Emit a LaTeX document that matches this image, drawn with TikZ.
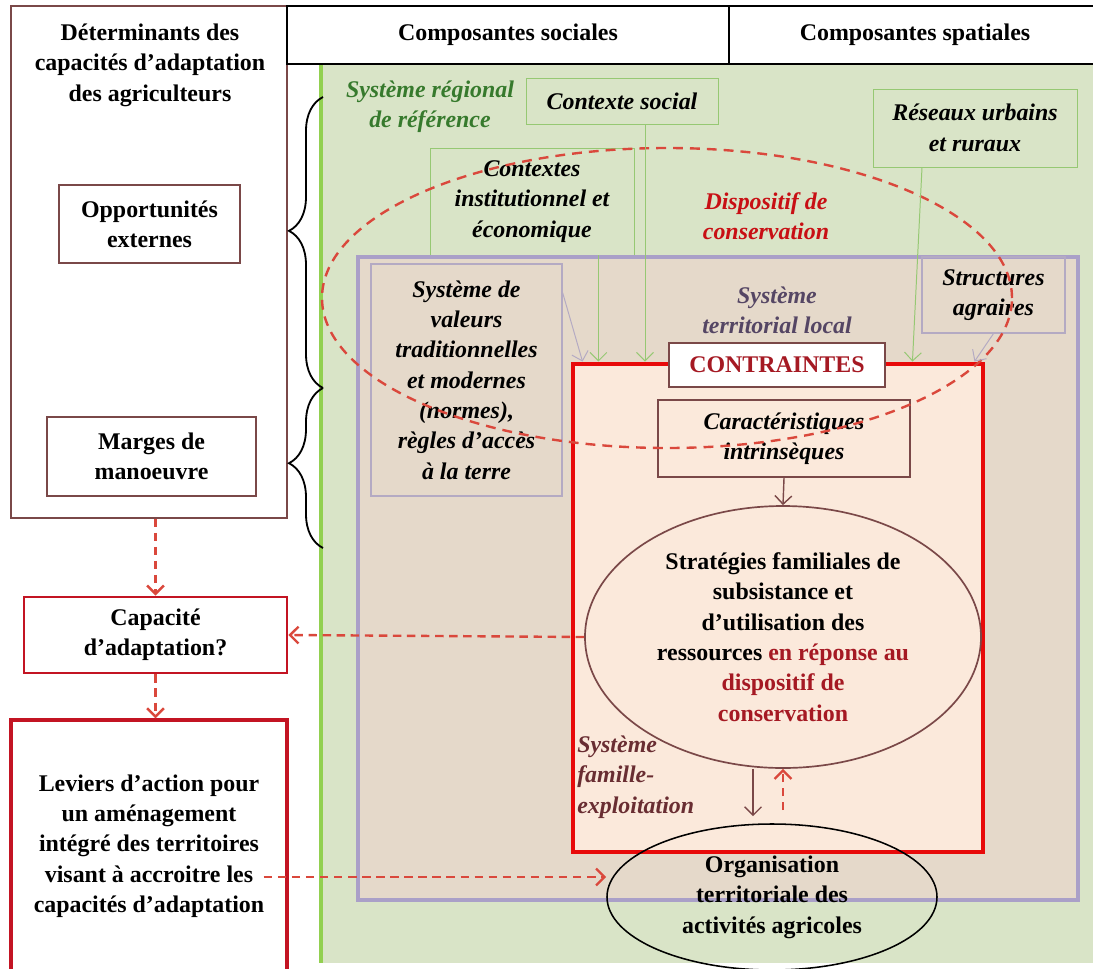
\documentclass[tikz,border=0pt]{standalone}
\usepackage{fontspec}
\setmainfont{Liberation Serif}
\usetikzlibrary{shapes.geometric,arrows.meta,decorations.pathreplacing,calc}

\definecolor{fondvert}{RGB}{217,228,199}
\definecolor{vertvif}{RGB}{146,208,80}
\definecolor{vertfil}{RGB}{150,200,115}
\definecolor{vertsys}{RGB}{55,122,45}
\definecolor{beige}{RGB}{229,217,202}
\definecolor{bordviolet}{RGB}{170,160,200}
\definecolor{violetf}{RGB}{85,70,100}
\definecolor{grisv}{RGB}{180,170,195}
\definecolor{peche}{RGB}{251,233,219}
\definecolor{brun}{RGB}{122,72,72}
\definecolor{brunf}{RGB}{105,45,50}
\definecolor{rougef}{RGB}{195,20,35}
\definecolor{rougevif}{RGB}{232,10,10}
\definecolor{rougep}{RGB}{218,72,60}
\definecolor{rougetxt}{RGB}{165,25,35}
\definecolor{rougedisp}{RGB}{200,15,20}

\begin{document}
\begin{tikzpicture}[
	x=0.025cm, y=-0.025cm,
	every node/.style={font=\fontsize{17}{21.6}\selectfont\bfseries, align=center, inner sep=0pt},
	ital/.style={font=\fontsize{17}{21.6}\selectfont\bfseries\itshape},
	sz/.style 2 args={minimum width=#1*0.025cm, minimum height=#2*0.025cm},
	boite/.style={draw=brun, line width=1.6pt, fill=white},
	boiterouge/.style={draw=rougef, line width=2pt, fill=white},
	boiteverte/.style={draw=vertfil, line width=0.6pt},
	boitegrise/.style={draw=grisv, line width=0.8pt},
	fleche/.style={-{Straight Barb[length=6pt,width=12pt]}},
	pointille/.style={fleche, draw=rougep, line width=1.7pt, dash pattern=on 6pt off 4pt},
	accolade/.style={line width=1.3pt, decorate, decoration={brace, amplitude=0.85cm, aspect=#1}}
	]

	\useasboundingbox (0,0) rectangle (1093,968);

	\fill[fondvert] (320,64) rectangle (1100,963);
	\draw[vertvif, line width=2.5pt] (321,64) -- (321,963);

	% colonne de gauche
	\node[draw=brun, line width=1pt, sz={276}{512}] (detbox) at (149,262) {};
	\node (dettitre) at (150,65) {Déterminants des\\capacités d’adaptation\\des agriculteurs};
	\node[boite, sz={181}{78}] (opport) at (149.5,224) {Opportunités\\externes};
	\node[boite, sz={209}{79}] (marges) at (151.5,456.5) {Marges de\\manoeuvre};
	\node[boiterouge, sz={263}{76}] (capa) at (155.5,635) {Capacité\\d’adaptation?};
	\node[boiterouge, line width=2.4pt, sz={276}{252}] (leviers) at (149,846) {Leviers d’action pour\\un aménagement\\intégré des territoires\\visant à accroitre les\\capacités d’adaptation};

	\node[draw, line width=1.4pt, sz={442}{58}] (compsoc) at (508,35) {Composantes sociales};
	\node[draw, line width=1.4pt, sz={372}{58}] (compspa) at (915,35) {Composantes spatiales};

	% systeme regional
	\node[ital, text=vertsys] (sysreg) at (430,107) {Système régional\\de référence};
	\node[boiteverte, ital, sz={192}{46}] (ctxsoc) at (622,101) {Contexte social};
	\node[boiteverte, ital, sz={204}{78}] (reseaux) at (975,128) {Réseaux urbains\\et ruraux};
	\node[boiteverte, ital, sz={204}{107}] (ctxinst) at (532,201.5) {Contextes\\institutionnel et\\économique};
	\node[ital, text=rougedisp] (dispo) at (766,216) {Dispositif de\\conservation};

	% systeme territorial local
	\node[draw=bordviolet, line width=3.5pt, fill=beige, sz={720}{643}] (terr) at (718,578.5) {};
	\node[ital, text=violetf] (systerr) at (777,310) {Système\\territorial local};
	\node[boitegrise, ital, sz={191}{232}] (valeurs) at (466.5,380) {Système de\\valeurs\\traditionnelles\\et modernes\\(normes),\\règles d’accès\\à la terre};
	\node[boitegrise, ital, sz={143}{76}] (struct) at (993.5,295) {Structures\\agraires};

	% systeme famille-exploitation
	\node[draw=rougevif, line width=3.5pt, fill=peche, sz={410}{488}] (exploit) at (778,608) {};
	\node[boite, text=rougetxt, sz={216}{44}] (contr) at (777,365) {CONTRAINTES};
	\node[boite, fill=peche, ital, sz={252}{77}] (caract) at (784,438.5) {Caractéristiques\\intrinsèques};
	\node[ellipse, draw=brun, line width=1.2pt, fill=peche, sz={396}{262}] (strat) at (783,637) {Stratégies familiales de\\subsistance et\\d’utilisation des\\ressources \textcolor{rougetxt}{en réponse au}\\\textcolor{rougetxt}{dispositif de}\\\textcolor{rougetxt}{conservation}};
	\node[ital, text=brunf, align=left, anchor=west] (sysfam) at (577,777) {Système\\famille-\\exploitation};
	\node[ellipse, draw, line width=1.1pt, sz={330}{146}] (orga) at (772,897) {Organisation\\territoriale des\\activités agricoles};

	\node[ellipse, draw=rougep, line width=1.7pt, dash pattern=on 7pt off 5pt, sz={690}{300}] (ellcons) at (667,298) {};

	% fleches vers les contraintes
	\coordinate (vd) at ($(valeurs.north east)+(0,29)$);
	\coordinate (ci) at ($(ctxinst.south east)+(-36,0)$);
	\coordinate (cs) at ($(ctxsoc.south)+(23,0)$);
	\coordinate (rs) at ($(reseaux.south)+(-53,0)$);
	\draw[fleche, grisv, line width=0.7pt] (vd) -- ($(exploit.north west)+(12,0)$);
	\draw[fleche, vertfil, line width=0.7pt] (ci) -- (ci |- exploit.north);
	\draw[fleche, vertfil, line width=0.7pt] (cs) -- (cs |- exploit.north);
	\draw[fleche, vertfil, line width=0.7pt] (rs) -- ($(exploit.north east)+(-73,0)$);
	\draw[fleche, grisv, line width=0.7pt] (struct.south) -- ($(exploit.north east)+(-11,0)$);

	\draw[fleche, brun, line width=1pt] (caract.south) -- (strat.north);
	\draw[fleche, brun, line width=1pt] ($(strat.south)+(-30,0)$) -- ($(orga.north)+(-19,-7)$);
	\draw[pointille] ($(orga.north)+(11,-13)$) -- (strat.south);

	\draw[pointille] (strat.west) -- (capa.east);
	\draw[pointille] (capa.north |- detbox.south) -- (capa.north);
	\draw[pointille] (capa.south) -- (capa.south |- leviers.north);
	\coordinate (lv) at ($(leviers.east)+(-25,31)$);
	\draw[pointille] (lv) -- (lv -| orga.west);

	\draw[accolade=0.54] (323,388) -- (323,97);
	\draw[accolade=0.53] (323,548) -- (323,388);

\end{tikzpicture}
\end{document}
